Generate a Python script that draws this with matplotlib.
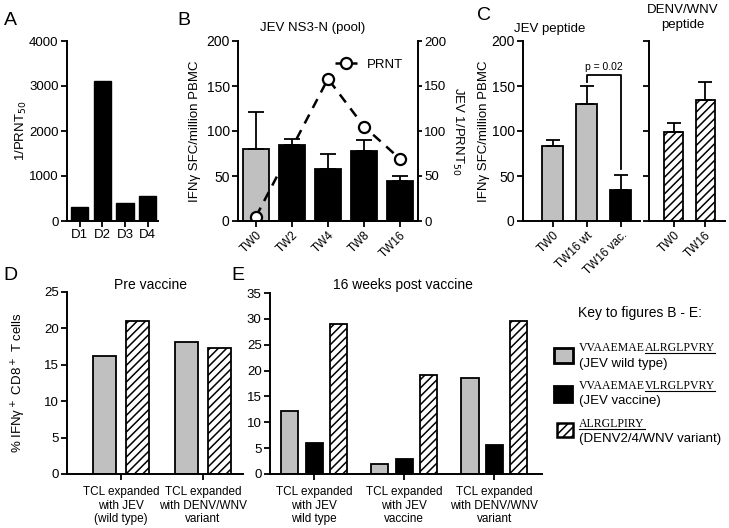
import matplotlib
matplotlib.use("Agg")
import matplotlib.pyplot as plt
from matplotlib.patches import Rectangle
from matplotlib.lines import Line2D
import numpy as np

plt.rcParams['font.family'] = ['Liberation Sans', 'DejaVu Sans']
plt.rcParams['hatch.linewidth'] = 1.1
plt.rcParams['axes.linewidth'] = 1.4

GRAY = '#c0c0c0'

# ---- data ----
# A
donors = ['D1', 'D2', 'D3', 'D4']
prnt_donor = [320, 3120, 400, 550]

# B
tw_b = ['TW0', 'TW2', 'TW4', 'TW8', 'TW16']
sfc_b = [80, 84, 58, 78, 45]
sfc_b_top = [121, 91, 74, 90, 50]
prnt_tw = ['TW0', 'TW4', 'TW8', 'TW16']
prnt_vals = [5, 158, 105, 69]

# C
tw_c1 = ['TW0', 'TW16 wt', 'TW16 vac.']
sfc_c1 = [83, 130, 35]
sfc_c1_top = [90, 150, 51]
tw_c2 = ['TW0', 'TW16']
sfc_c2 = [99, 134]
sfc_c2_top = [109, 155]

# D
groups_d = ['TCL expanded\nwith JEV\n(wild type)', 'TCL expanded\nwith DENV/WNV\nvariant']
d_wt = [16.2, 18.2]
d_var = [21.0, 17.3]

# E
groups_e = ['TCL expanded\nwith JEV\nwild type', 'TCL expanded\nwith JEV\nvaccine',
            'TCL expanded\nwith DENV/WNV\nvariant']
e_wt = [12.1, 2.0, 18.5]
e_vac = [6.0, 2.9, 5.6]
e_var = [29.0, 19.2, 29.6]

W, H = 729, 528
fig = plt.figure(figsize=(W / 100, H / 100), dpi=100)


def px(x, y):
    return x / W, 1 - y / H


def make_ax(x0, x1, ytop, ybot):
    ax = fig.add_axes([x0 / W, 1 - ybot / H, (x1 - x0) / W, (ybot - ytop) / H])
    ax.spines['top'].set_visible(False)
    ax.spines['right'].set_visible(False)
    ax.tick_params(direction='out', length=4, width=1.3, colors='black', pad=2)
    return ax


# ---- A ----
axA = make_ax(67, 158, 41, 221)
xa = np.arange(len(donors))
axA.bar(xa, prnt_donor, width=0.75, color='black', edgecolor='black')
axA.set_xlim(-0.55, 3.45)
axA.set_ylim(0, 4000)
axA.set_yticks([0, 1000, 2000, 3000, 4000])
axA.set_xticks(xa)
axA.set_xticklabels(donors, fontsize=9.5)
axA.tick_params(axis='y', labelsize=9.5)
axA.set_ylabel('1/PRNT$_{50}$', fontsize=9.5)
axA.yaxis.set_label_coords(-0.42, 0.5)

# ---- B ----
axB = make_ax(238, 418, 41, 221)
xb = np.arange(len(tw_b))
colsB = [GRAY] + ['black'] * 4
errB = [np.zeros(5), np.array(sfc_b_top) - np.array(sfc_b)]
axB.bar(xb, sfc_b, width=0.72, color=colsB, edgecolor='black', linewidth=1.3,
        yerr=errB, capsize=6, error_kw=dict(elinewidth=1.3, capthick=1.3, ecolor='black'))
axB.set_xlim(-0.5, 4.5)
axB.set_ylim(0, 200)
axB.set_yticks([0, 50, 100, 150, 200])
axB.set_xticks(xb)
axB.set_xticklabels(tw_b, rotation=45, ha='right', rotation_mode='anchor', fontsize=8.5)
axB.tick_params(axis='y', labelsize=10)
axB.set_ylabel('IFNγ SFC/million PBMC', fontsize=9.5)
axB.yaxis.set_label_coords(-0.205, 0.5)
axB2 = axB.twinx()
axB2.spines['top'].set_visible(False)
axB2.spines['left'].set_visible(False)
axB2.spines['right'].set_linewidth(1.4)
axB2.tick_params(direction='out', length=3, width=1.3, labelsize=9.5, pad=1.5)
axB2.set_ylim(0, 200)
axB2.set_yticks([0, 50, 100, 150, 200])
xp = [tw_b.index(t) for t in prnt_tw]
axB2.plot(xp, prnt_vals, linestyle=(0, (4, 3)), color='black', linewidth=1.8,
          marker='o', markersize=8, markerfacecolor='white', markeredgewidth=1.6,
          label='PRNT')
axB2.set_ylabel('JEV 1/PRNT$_{50}$', fontsize=9.5, rotation=270)
axB2.yaxis.set_label_coords(1.26, 0.5)
axB2.legend(loc='upper right', frameon=False, fontsize=9.5, handlelength=1.7,
            bbox_to_anchor=(0.98, 0.97), handletextpad=0.7)

# ---- C ----
axC1 = make_ax(523, 640, 41, 221)
xc1 = np.arange(len(tw_c1))
errC1 = [np.zeros(3), np.array(sfc_c1_top) - np.array(sfc_c1)]
axC1.bar(xc1, sfc_c1, width=0.62, color=[GRAY, GRAY, 'black'], edgecolor='black',
         linewidth=1.3, yerr=errC1, capsize=5,
         error_kw=dict(elinewidth=1.3, capthick=1.3, ecolor='black'))
axC1.set_xlim(-0.88, 2.56)
axC1.set_ylim(0, 200)
axC1.set_yticks([0, 50, 100, 150, 200])
axC1.set_xticks(xc1)
axC1.set_xticklabels(tw_c1, rotation=45, ha='right', rotation_mode='anchor', fontsize=8.5)
axC1.tick_params(axis='y', labelsize=10)
axC1.set_ylabel('IFNγ SFC/million PBMC', fontsize=9.5)
axC1.yaxis.set_label_coords(-0.28, 0.5)
# significance bracket
axC1.plot([1, 1, 2, 2], [154, 162, 162, 58], color='black', linewidth=1.3, clip_on=False)
axC1.text(1.5, 165, 'p = 0.02', ha='center', va='bottom', fontsize=7.5)

axC2 = make_ax(649, 725, 41, 221)
xc2 = np.arange(len(tw_c2))
errC2 = [np.zeros(2), np.array(sfc_c2_top) - np.array(sfc_c2)]
axC2.bar(xc2, sfc_c2, width=0.6, color='white', edgecolor='black', hatch='////',
         linewidth=1.3, yerr=errC2, capsize=5,
         error_kw=dict(elinewidth=1.3, capthick=1.3, ecolor='black'))
axC2.set_xlim(-0.78, 1.63)
axC2.set_ylim(0, 200)
axC2.set_yticks([0, 50, 100, 150, 200])
axC2.set_yticklabels([])
axC2.set_xticks(xc2)
axC2.set_xticklabels(tw_c2, rotation=45, ha='right', rotation_mode='anchor', fontsize=8.5)

# ---- D ----
axD = make_ax(67, 243, 292, 474)
xd = np.arange(len(groups_d))
axD.bar(xd - 0.2, d_wt, width=0.28, color=GRAY, edgecolor='black', linewidth=1.3)
axD.bar(xd + 0.2, d_var, width=0.28, color='white', edgecolor='black', hatch='////',
        linewidth=1.3)
axD.set_xlim(-0.66, 1.49)
axD.set_ylim(0, 25)
axD.set_yticks([0, 5, 10, 15, 20, 25])
axD.set_xticks(xd)
axD.set_xticklabels(groups_d, fontsize=8.5, linespacing=1.15)
axD.tick_params(axis='x', pad=5)
axD.tick_params(axis='y', labelsize=9.5)
axD.set_ylabel('% IFNγ$^+$ CD8$^+$ T cells', fontsize=9.5)
axD.yaxis.set_label_coords(-0.22, 0.5)

# ---- E ----
axE = make_ax(270, 542, 293, 474)
xe = np.arange(len(groups_e))
axE.bar(xe - 0.27, e_wt, width=0.19, color=GRAY, edgecolor='black', linewidth=1.3)
axE.bar(xe, e_vac, width=0.19, color='black', edgecolor='black', linewidth=1.3)
axE.bar(xe + 0.27, e_var, width=0.19, color='white', edgecolor='black', hatch='////',
        linewidth=1.3)
axE.set_xlim(-0.49, 2.53)
axE.set_ylim(0, 35)
axE.set_yticks([0, 5, 10, 15, 20, 25, 30, 35])
axE.set_xticks(xe)
axE.set_xticklabels(groups_e, fontsize=8.5, linespacing=1.15)
axE.tick_params(axis='x', pad=5)
axE.tick_params(axis='y', labelsize=9.5)

# ---- titles and panel letters ----
for letter, (x, y) in zip('ABCDE', [(4, 25), (177, 25), (477, 20), (3, 280), (231, 280)]):
    fig.text(*px(x, y), letter, fontsize=14, va='baseline')
fig.text(*px(313, 31), 'JEV NS3-N (pool)', fontsize=9.5, ha='center', va='baseline')
fig.text(*px(550, 32), 'JEV peptide', fontsize=9.5, ha='center', va='baseline')
fig.text(*px(683, 13), 'DENV/WNV', fontsize=9.5, ha='center', va='baseline')
fig.text(*px(683, 28), 'peptide', fontsize=9.5, ha='center', va='baseline')
fig.text(*px(150, 289), 'Pre vaccine', fontsize=10, ha='center', va='baseline')
fig.text(*px(403, 289), '16 weeks post vaccine', fontsize=10, ha='center', va='baseline')

# ---- key ----
fig.text(*px(578, 317), 'Key to figures B - E:', fontsize=10, va='baseline')
renderer = fig.canvas.get_renderer()
SERIF = 'Liberation Serif'


def seq_text(x, y, prefix, under):
    fx, fy = px(x, y)
    if prefix:
        t1 = fig.text(fx, fy, prefix, family=SERIF, fontsize=8.5, va='baseline')
        bb = t1.get_window_extent(renderer)
        fx = bb.x1 / W
    t2 = fig.text(fx, fy, under, family=SERIF, fontsize=8.5, va='baseline')
    bb2 = t2.get_window_extent(renderer)
    ly = fy - 2.0 / H
    fig.add_artist(Line2D([bb2.x0 / W, bb2.x1 / W], [ly, ly], color='black',
                          linewidth=0.8, transform=fig.transFigure))


key_rows = [
    ('VVAAEMAE', 'ALRGLPVRY', '(JEV wild type)', 351, 367),
    ('VVAAEMAE', 'VLRGLPVRY', '(JEV vaccine)', 389, 404),
    ('', 'ALRGLPIRY', '(DENV2/4/WNV variant)', 427, 442),
]
for pre, und, desc, y1, y2 in key_rows:
    seq_text(579, y1, pre, und)
    fig.text(*px(579, y2), desc, fontsize=9.5, va='baseline')

box_style = [
    dict(x=554, y=348, w=19, h=15, fc=GRAY, hatch=None, lw=2.0),
    dict(x=554, y=386, w=19, h=17, fc='black', hatch=None, lw=1.3),
    dict(x=557, y=423, w=16, h=14, fc='white', hatch='////', lw=1.8),
]
for b in box_style:
    x0, y0 = px(b['x'], b['y'] + b['h'])
    fig.add_artist(Rectangle((x0, y0), b['w'] / W, b['h'] / H, facecolor=b['fc'],
                             edgecolor='black', hatch=b['hatch'], linewidth=b['lw'],
                             transform=fig.transFigure))

fig.savefig('out.png', dpi=100)
